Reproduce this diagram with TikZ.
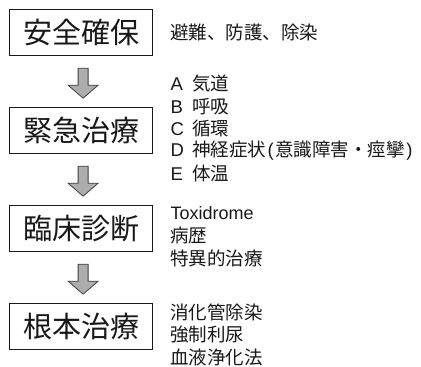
\documentclass[tikz,border=0pt]{standalone}
\usepackage{fontspec}
\setmainfont{Liberation Sans}
\newfontfamily\jp{Noto Sans CJK JP}
\usetikzlibrary{calc}
\begin{document}
\begin{tikzpicture}[x=1pt,y=-1pt,
  stage/.style={draw=black!90, line width=1.2pt, minimum width=143pt, minimum height=46pt,
    inner sep=0pt, anchor=north west, text=black!90, font=\jp\fontsize{29}{29}\selectfont},
  note/.style={anchor=west, inner sep=0pt, text=black!90, font=\fontsize{18.5}{22}\selectfont},
  flow/.style={draw=black!75, line width=0.8pt, fill=black!32, line join=miter}]
\useasboundingbox (0,0) rectangle (421,367);
\fill[white] (0,0) rectangle (421,367);
% stages
\node[stage] (b1) at (9,9)   {安全確保};
\node[stage] (b2) at (9,107) {緊急治療};
\node[stage] (b3) at (9,205) {臨床診断};
\node[stage] (b4) at (9,303) {根本治療};
% block arrows between stages
\foreach \u/\v in {b1/b2, b2/b3, b3/b4}{
  \draw[flow] ($(\u.south)+(-3,12)$) -- ++(10,0) -- ++(0,17) -- ++(10,0)
     -- ++(-15,13) -- ++(-15,-13) -- ++(10,0) -- cycle;
}
% notes
\node[note] (n1) at (170,32) {\jp 避難、防護、除染};
\node[note] (a1) at (170.5,84)    {\makebox[21.5pt][l]{A}{\jp 気道}};
\node[note] (a2) at (170.5,106.25){\makebox[21.5pt][l]{B}{\jp 呼吸}};
\node[note] (a3) at (170.5,128.5) {\makebox[21.5pt][l]{C}{\jp 循環}};
\node[note] (a4) at (170.5,150.75){\makebox[21.5pt][l]{D}{\jp 神経症状}\hspace{1.5pt}(\hspace{1.5pt}{\jp 意識障害・痙攣}\hspace{1.5pt})};
\node[note] (a5) at (170.5,173)   {\makebox[21.5pt][l]{E}{\jp 体温}};
\node[note, font=\fontsize{18}{22}\selectfont] (c1) at (170.5,213) {Toxidrome};
\node[note] (c2) at (170,235.5) {\jp 病歴};
\node[note] (c3) at (170,258) {\jp 特異的治療};
\node[note] (d1) at (170,312.5) {\jp 消化管除染};
\node[note] (d2) at (170,335) {\jp 強制利尿};
\node[note] (d3) at (170,357.5) {\jp 血液浄化法};
\end{tikzpicture}
\end{document}
